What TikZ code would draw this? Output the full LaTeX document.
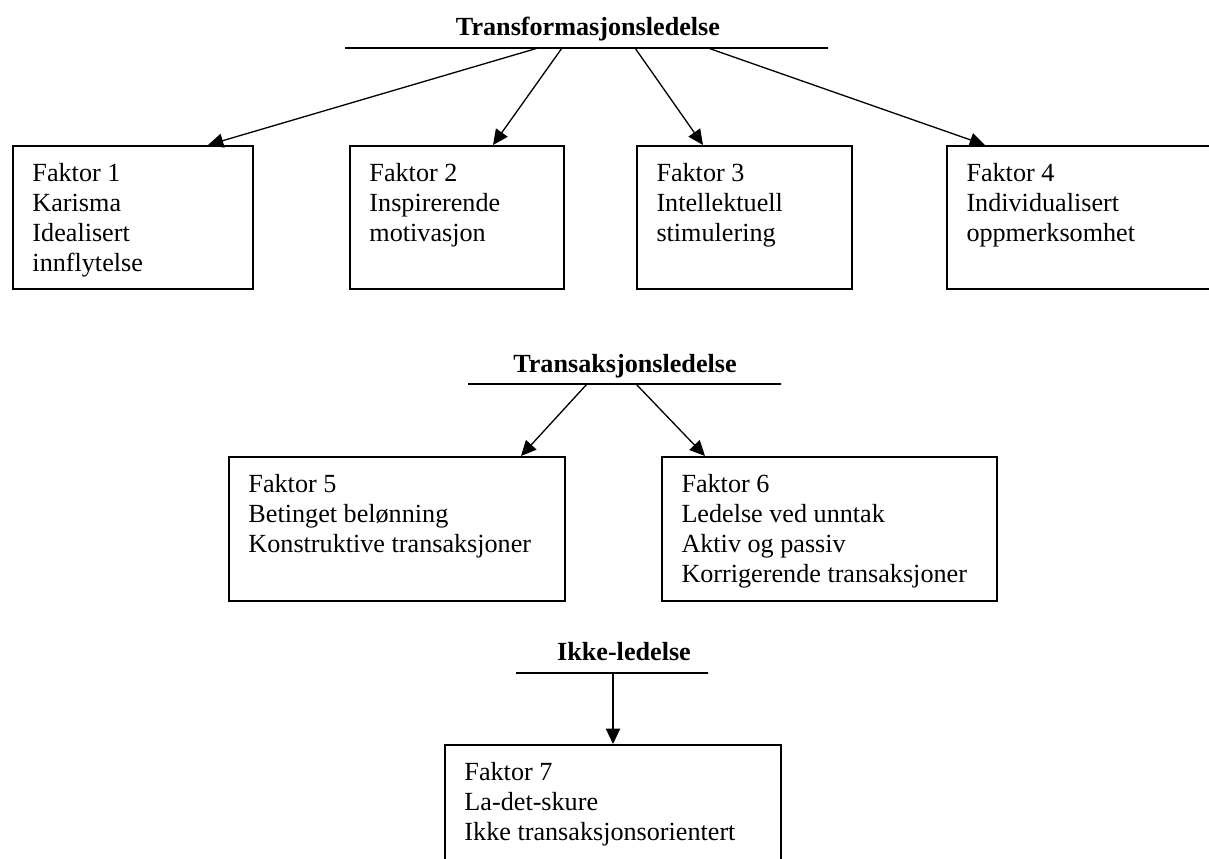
\documentclass[tikz,border=0pt]{standalone}
\usepackage{fontspec}
\setmainfont{Liberation Serif}
\usetikzlibrary{arrows.meta,positioning}
\newcommand{\pxu}{0.4587pt}

\begin{document}
\begin{tikzpicture}[
    x=\pxu, y=-\pxu,
    % Стиль для блоков-факторов: пустой прямоугольник
    faktor/.style={draw, line width=0.9pt, rectangle, anchor=north west, inner sep=0pt},
    % Текст внутри блока
    faktortekst/.style={align=left, inner sep=0pt, font=\fontsize{12}{13.8}\selectfont},
    % Заголовок группы (жирный)
    tittel/.style={anchor=base, inner sep=0pt, font=\fontsize{12}{13.8}\selectfont\bfseries},
    % Горизонтальная черта под заголовком
    strek/.style={draw, line width=0.9pt, inner sep=0pt, minimum height=0pt},
    % Стрелки
    pil/.style={line width=0.6pt, -{Triangle[length=7pt,width=6.5pt]}}
]
    \useasboundingbox (0,0) rectangle (1209,858);

    % --- Transformasjonsledelse ---
    \node[tittel] (t1) at (588,36) {Transformasjonsledelse};
    \node[strek, minimum width=483*\pxu] (s1) at (586.5,48) {};

    \node[faktor, minimum width=240*\pxu, minimum height=143*\pxu] (f1) at (12,145) {};
    \node[faktor, minimum width=214*\pxu, minimum height=143*\pxu] (f2) at (349,145) {};
    \node[faktor, minimum width=215*\pxu, minimum height=143*\pxu] (f3) at (636,145) {};
    \node[faktor, minimum width=280*\pxu, minimum height=143*\pxu] (f4) at (946,145) {};

    \node[faktortekst, below right=8.1pt and 9.2pt of f1.north west] (f1t)
        {Faktor 1\\Karisma\\Idealisert\\innflytelse};
    \node[faktortekst, below right=8.1pt and 9.2pt of f2.north west] (f2t)
        {Faktor 2\\Inspirerende\\motivasjon};
    \node[faktortekst, below right=8.1pt and 9.2pt of f3.north west] (f3t)
        {Faktor 3\\Intellektuell\\stimulering};
    \node[faktortekst, below right=8.1pt and 9.2pt of f4.north west] (f4t)
        {Faktor 4\\Individualisert\\oppmerksomhet};

    \draw[pil] (s1.center -| 538,0) -- (f1.north -| 208,0);
    \draw[pil] (s1.center -| 562,0) -- (f2.north -| 493,0);
    \draw[pil] (s1.center -| 635,0) -- (f3.north -| 703,0);
    \draw[pil] (s1.center -| 708,0) -- (f4.north -| 985,0);

    % --- Transaksjonsledelse ---
    \node[tittel] (t2) at (625,372) {Transaksjonsledelse};
    \node[strek, minimum width=313*\pxu] (s2) at (624.5,384) {};

    \node[faktor, minimum width=336*\pxu, minimum height=144*\pxu] (f5) at (228,456) {};
    \node[faktor, minimum width=335*\pxu, minimum height=144*\pxu] (f6) at (661,456) {};

    \node[faktortekst, below right=8.1pt and 9.2pt of f5.north west] (f5t)
        {Faktor 5\\Betinget belønning\\Konstruktive transaksjoner};
    \node[faktortekst, below right=8.1pt and 9.2pt of f6.north west] (f6t)
        {Faktor 6\\Ledelse ved unntak\\Aktiv og passiv\\Korrigerende transaksjoner};

    \draw[pil] (s2.center -| 587,0) -- (f5.north -| 521,0);
    \draw[pil] (s2.center -| 636,0) -- (f6.north -| 705,0);

    % --- Ikke-ledelse ---
    \node[tittel] (t3) at (624,660) {Ikke-ledelse};
    \node[strek, minimum width=192*\pxu] (s3) at (612,673) {};

    \node[faktor, minimum width=336*\pxu, minimum height=140*\pxu] (f7) at (444,744) {};
    \node[faktortekst, below right=8.1pt and 9.2pt of f7.north west] (f7t)
        {Faktor 7\\La-det-skure\\Ikke transaksjonsorientert};

    \draw[pil] (s3.center -| 613,0) -- (f7.north -| 613,0);

\end{tikzpicture}
\end{document}
